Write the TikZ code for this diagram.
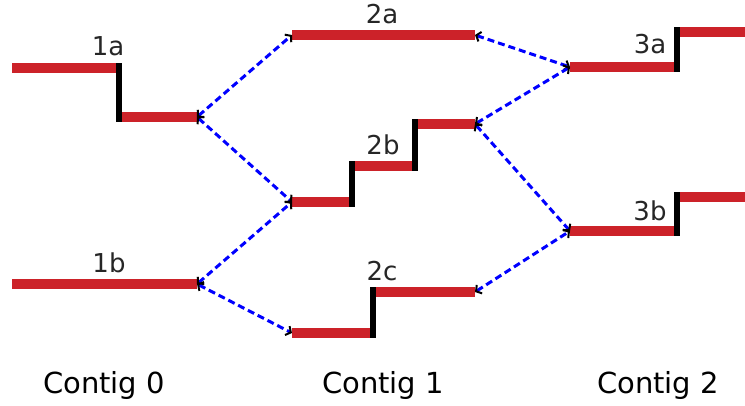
\documentclass[tikz,border=0pt]{standalone}
\usepackage{fontspec}
\setmainfont{DejaVu Sans}
\usepackage{tikz}
\usetikzlibrary{arrows.meta}
\definecolor{ctRed}{HTML}{CC2229}
\definecolor{ctLink}{HTML}{0000FF}

\begin{document}
\begin{tikzpicture}[x=1pt,y=-1pt,
  every node/.style={font=\fontsize{26}{28}\selectfont,text=black!85,anchor=base,inner sep=0pt},
  seg/.style={ctRed,line width=10pt},
  jump/.style={black,line width=6pt},
  link/.style={ctLink,line width=3pt,dash pattern=on 7pt off 4pt,
    {Straight Barb[length=4pt,width=10pt,color=black,line width=2pt]}-{Straight Barb[length=4pt,width=10pt,color=black,line width=2pt]}},
  contig/.style={font=\fontsize{29}{31}\selectfont,text=black}]
  \useasboundingbox (0,0) rectangle (745,405);
  % contig 0
  \draw[seg] (12,68) coordinate (s1a) -- (119,68);
  \draw[seg] (119,117) -- (197,117) coordinate (e1a);
  \draw[jump] (119,63) -- (119,122);
  \node (l1a) at (108,55) {1a};
  \draw[seg] (12,284) coordinate (s1b) -- (197,284) coordinate (e1b);
  \node (l1b) at (109,272) {1b};
  % contig 1
  \draw[seg] (292,35) coordinate (s2a) -- (475,35) coordinate (e2a);
  \node (l2a) at (382,23) {2a};
  \draw[seg] (292,202) coordinate (s2b) -- (352,202);
  \draw[seg] (352,166) -- (415,166);
  \draw[seg] (415,124) -- (475,124) coordinate (e2b);
  \draw[jump] (352,161) -- (352,207);
  \draw[jump] (415,119) -- (415,171);
  \node (l2b) at (383,154) {2b};
  \draw[seg] (292,333) coordinate (s2c) -- (373,333);
  \draw[seg] (373,292) -- (475,292) coordinate (e2c);
  \draw[jump] (373,287) -- (373,338);
  \node (l2c) at (382,280) {2c};
  % contig 2
  \draw[seg] (570,67) coordinate (s3a) -- (677,67);
  \draw[seg] (677,32) -- (745,32);
  \draw[jump] (677,27) -- (677,72);
  \node (l3a) at (650,53) {3a};
  \draw[seg] (570,231) coordinate (s3b) -- (677,231);
  \draw[seg] (677,197) -- (745,197);
  \draw[jump] (677,192) -- (677,236);
  \node (l3b) at (650,220) {3b};
  % links between contigs
  \foreach \a/\b in {e1a/s2a,e1a/s2b,e1b/s2b,e1b/s2c,e2a/s3a,e2b/s3a,e2b/s3b,e2c/s3b}
    \draw[link] (\a) -- (\b);
  \node[contig] (c0) at (104,393) {Contig 0};
  \node[contig] (c1) at (383,393) {Contig 1};
  \node[contig] (c2) at (658,393) {Contig 2};
\end{tikzpicture}
\end{document}
